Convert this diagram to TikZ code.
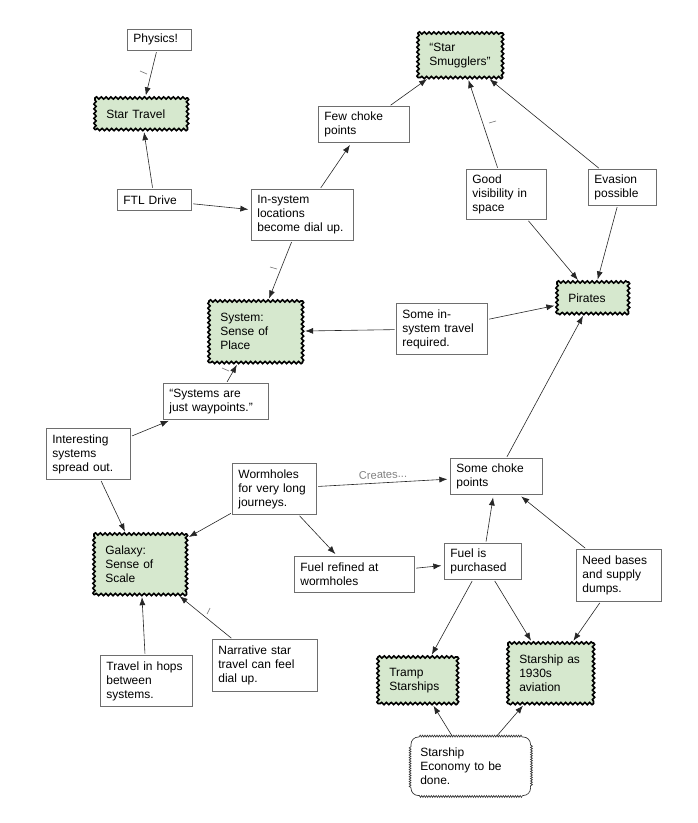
\documentclass[tikz,border=0pt]{standalone}
\usepackage{fontspec}
\setmainfont{Liberation Sans}
\usetikzlibrary{arrows.meta,decorations.pathmorphing,calc}
\definecolor{greenfill}{RGB}{214,232,206}
\definecolor{boxline}{RGB}{110,110,110}
\definecolor{lab}{RGB}{128,128,128}
\newcommand\mkbox[8]{% style, pad(px), name, x, y, w, h, text
  \pgfmathsetlengthmacro\bw{#6*0.75pt}%
  \pgfmathsetlengthmacro\bh{#7*0.75pt}%
  \pgfmathsetlengthmacro\tw{(#6-2*#2)*0.75pt}%
  \pgfmathsetlengthmacro\pd{#2*0.75pt}%
  \node[#1, anchor=north west, inner xsep=\pd, inner ysep=0pt, minimum width=\bw, minimum height=\bh, text width=\tw, align=left] (#3) at (#4,#5) {#8};}
\newcommand\wavyedge[1]{%
  \draw[wave] (#1.north west) -- (#1.north east);
  \draw[wave] (#1.north east) -- (#1.south east);
  \draw[wave] (#1.south east) -- (#1.south west);
  \draw[wave] (#1.south west) -- (#1.north west);}
\newcommand\cloudedge[1]{%
  \draw[bumpy] ($(#1.north west)+(8,0)$) -- ($(#1.north east)+(-8,0)$);
  \draw[bumpy] ($(#1.north east)+(0,8)$) -- ($(#1.south east)+(0,-8)$);
  \draw[bumpy] ($(#1.south east)+(-8,0)$) -- ($(#1.south west)+(8,0)$);
  \draw[bumpy] ($(#1.south west)+(0,-8)$) -- ($(#1.north west)+(0,8)$);
  \draw[cloudline, rounded corners=5.5pt] ($(#1.north west)+(0,8)$) -- (#1.north west) -- ($(#1.north west)+(8,0)$);
  \draw[cloudline, rounded corners=5.5pt] ($(#1.north east)+(-8,0)$) -- (#1.north east) -- ($(#1.north east)+(0,8)$);
  \draw[cloudline, rounded corners=5.5pt] ($(#1.south east)+(0,-8)$) -- (#1.south east) -- ($(#1.south east)+(-8,0)$);
  \draw[cloudline, rounded corners=5.5pt] ($(#1.south west)+(8,0)$) -- (#1.south west) -- ($(#1.south west)+(0,-8)$);}
\begin{document}
\begin{tikzpicture}[x=0.75pt,y=-0.75pt,
  font=\fontsize{9}{10.5}\selectfont,
  plain/.style={draw=boxline, line width=0.6pt, fill=white},
  green/.style={fill=greenfill},
  wave/.style={draw=black, line width=1.2pt, line cap=round, decorate,
     decoration={snake, amplitude=0.85pt, segment length=3.6pt}},
  cloud/.style={fill=white},
  cloudline/.style={draw=black!80, line width=0.5pt},
  bumpy/.style={cloudline, decorate, decoration={bumps, amplitude=1.4pt, segment length=3.6pt}},
  arr/.style={-{Latex[length=6pt,width=4.5pt]}, line width=0.45pt, draw=black!85, shorten >=2pt, shorten <=1pt},
  tick/.style={draw=lab, line width=0.5pt}]
\useasboundingbox (0,0) rectangle (697,823);
% plain boxes
\mkbox{plain}{6}{phys}{127}{29}{64}{21}{Physics!}
\mkbox{plain}{6}{ftl}{117}{189}{74}{21}{FTL Drive}
\mkbox{plain}{6}{insys}{251}{189}{102}{51}{In-system\\locations\\become dial up.}
\mkbox{plain}{6}{few}{318}{106}{91}{36}{Few choke\\points}
\mkbox{plain}{6}{good}{466}{169}{80}{50}{Good\\visibility in\\space}
\mkbox{plain}{6}{evas}{588}{169}{68}{36}{Evasion\\possible}
\mkbox{plain}{6}{some}{396}{303}{91}{51}{Some in-\\system travel\\required.}
\mkbox{plain}{6}{wayp}{163}{383}{105}{36}{“Systems are\\just waypoints.”}
\mkbox{plain}{6}{inter}{46}{428}{84}{51}{Interesting\\systems\\spread out.}
\mkbox{plain}{6}{worm}{232}{463}{84}{51}{Wormholes\\for very long\\journeys.}
\mkbox{plain}{6}{fuelr}{294}{556}{120}{36}{Fuel refined at\\wormholes}
\mkbox{plain}{6}{choke}{450}{458}{92}{36}{Some choke\\points}
\mkbox{plain}{6}{fuelp}{444}{543}{77}{36}{Fuel is\\purchased}
\mkbox{plain}{6}{need}{576}{549}{85}{52}{Need bases\\and supply\\dumps.}
\mkbox{plain}{6}{hops}{100}{655}{92}{51}{Travel in hops\\between\\systems.}
\mkbox{plain}{6}{narr}{212}{639}{105}{52}{Narrative star\\travel can feel\\dial up.}
\mkbox{cloud}{9}{econ}{411}{737}{119}{58}{Starship\\Economy to be\\done.}
\cloudedge{econ}
% green boxes
\mkbox{green}{11}{star}{95}{98}{92}{31}{Star Travel}
\mkbox{green}{11}{smug}{418}{33}{84}{44}{“Star\\Smugglers”}
\mkbox{green}{11}{pir}{557}{282}{71}{31}{Pirates}
\mkbox{green}{11}{sys}{209}{301}{93}{61}{System:\\Sense of\\Place}
\mkbox{green}{11}{gal}{94}{534}{92}{60}{Galaxy:\\Sense of\\Scale}
\mkbox{green}{11}{tramp}{378}{657}{79}{46}{Tramp\\Starships}
\mkbox{green}{11}{avia}{508}{643}{85}{60}{Starship as\\1930s\\aviation}
\wavyedge{star}
\wavyedge{smug}
\wavyedge{pir}
\wavyedge{sys}
\wavyedge{gal}
\wavyedge{tramp}
\wavyedge{avia}
% connectors
\draw[arr] (phys) -- (star);
\draw[arr] (ftl) -- (star);
\draw[arr] (ftl) -- (insys);
\draw[arr] (insys) -- (few);
\draw[arr] (few) -- (smug);
\draw[arr] (insys) -- (sys);
\draw[arr] (good) -- (smug);
\draw[arr] (evas) -- (smug);
\draw[arr] (good) -- (pir);
\draw[arr] (evas) -- (pir);
\draw[arr] (some) -- (sys);
\draw[arr] (some) -- (pir);
\draw[arr] (choke) -- (pir);
\draw[arr] (wayp) -- (sys);
\draw[arr] (inter) -- (wayp);
\draw[arr] (inter) -- (gal);
\draw[arr] (worm) -- (gal);
\draw[arr] (worm) -- node[midway, above=-0.5pt, sloped, text=lab, font=\fontsize{8.3}{9}\selectfont] {Creates...} (choke);
\draw[arr] (worm) -- (fuelr);
\draw[arr] (fuelr) -- (fuelp);
\draw[arr] (fuelp) -- (choke);
\draw[arr] (need) -- (choke);
\draw[arr] (fuelp) -- (tramp);
\draw[arr] (fuelp) -- (avia);
\draw[arr] (need) -- (avia);
\draw[arr] (econ) -- (tramp);
\draw[arr] (econ) -- (avia);
\draw[arr] (hops) -- (gal);
\draw[arr] (narr) -- (gal);
% small connector marks
\draw[tick] (140,71) -- (147,74);
\draw[tick] (270,267) -- (277,269);
\draw[tick] (489,123) -- (496,121);
\draw[tick] (222,368) -- (229,371);
\draw[tick] (207,614) -- (210,608);
\end{tikzpicture}
\end{document}
